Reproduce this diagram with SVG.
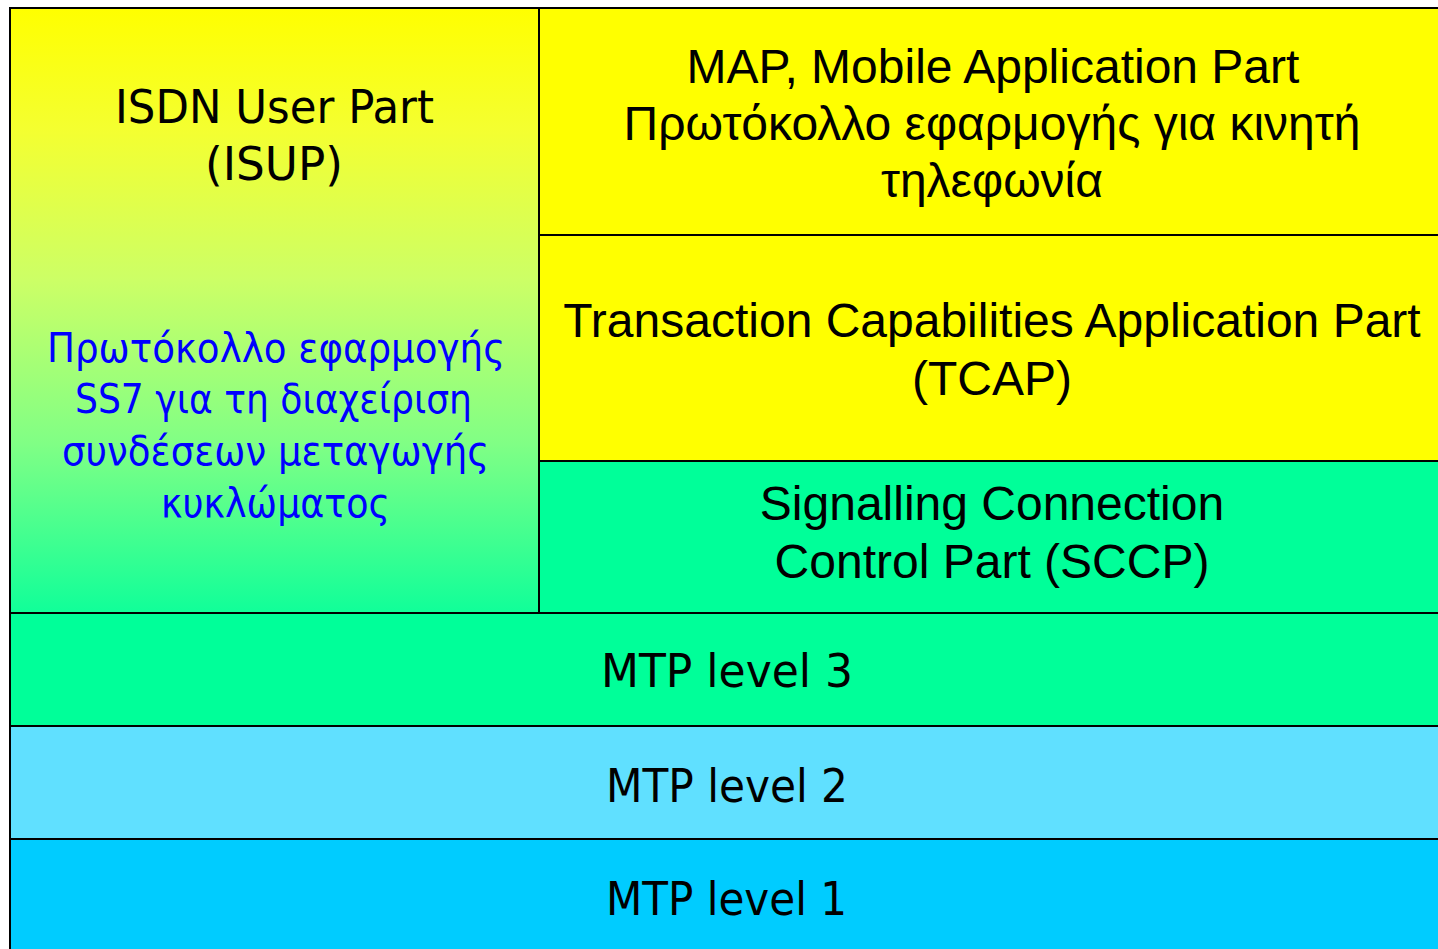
<svg xmlns="http://www.w3.org/2000/svg" width="1438" height="949" viewBox="0 0 1438 949">
  <defs>
    <linearGradient id="isupGrad" x1="0" y1="0" x2="0" y2="1">
      <stop offset="0" stop-color="#FFFF00"/>
      <stop offset="0.2" stop-color="#F4FF30"/>
      <stop offset="0.45" stop-color="#CCFF66"/>
      <stop offset="0.72" stop-color="#80FF85"/>
      <stop offset="1" stop-color="#10FF99"/>
    </linearGradient>
    <style>
      .box { stroke: #000000; stroke-width: 2; }
      .arial { font-family: "Liberation Sans", Arial, sans-serif; font-size: 48px; fill: #000000; text-anchor: middle; }
      .tah { font-family: "DejaVu Sans", Tahoma, sans-serif; font-size: 47px; fill: #000000; }
      .tahblue { font-family: "DejaVu Sans", Tahoma, sans-serif; font-size: 40px; fill: #0000FF; }
    </style>
  </defs>
  <rect x="0" y="0" width="1438" height="949" fill="#FFFFFF"/>

  <g id="isup">
    <rect class="box" x="10" y="8" width="529" height="605" fill="url(#isupGrad)"/>
    <text class="tah" x="115" y="123" textLength="319" lengthAdjust="spacingAndGlyphs">ISDN User Part</text>
    <text class="tah" x="205" y="180" textLength="138" lengthAdjust="spacingAndGlyphs">(ISUP)</text>
    <text class="tahblue" x="47" y="362" textLength="458" lengthAdjust="spacingAndGlyphs">Πρωτόκολλο εφαρμογής</text>
    <text class="tahblue" x="75" y="413" textLength="397" lengthAdjust="spacingAndGlyphs">SS7 για τη διαχείριση</text>
    <text class="tahblue" x="62" y="465" textLength="427" lengthAdjust="spacingAndGlyphs">συνδέσεων μεταγωγής</text>
    <text class="tahblue" x="161" y="517" textLength="229" lengthAdjust="spacingAndGlyphs">κυκλώματος</text>
  </g>

  <g id="map">
    <rect class="box" x="539" y="8" width="907" height="227" fill="#FFFF00"/>
    <text class="arial" x="993" y="83">MAP, Mobile Application Part</text>
    <text class="arial" x="992" y="140">Πρωτόκολλο εφαρμογής για κινητή</text>
    <text class="arial" x="992" y="197">τηλεφωνία</text>
  </g>

  <g id="tcap">
    <rect class="box" x="539" y="235" width="907" height="226" fill="#FFFF00"/>
    <text class="arial" x="992" y="337">Transaction Capabilities Application Part</text>
    <text class="arial" x="992" y="395">(TCAP)</text>
  </g>

  <g id="sccp">
    <rect class="box" x="539" y="461" width="907" height="152" fill="#00FF99"/>
    <text class="arial" x="992" y="520">Signalling Connection</text>
    <text class="arial" x="992" y="578">Control Part (SCCP)</text>
  </g>

  <g id="mtp3">
    <rect class="box" x="10" y="613" width="1436" height="113" fill="#00FF99"/>
    <text class="tah" x="601" y="687" textLength="252" lengthAdjust="spacingAndGlyphs">MTP level 3</text>
  </g>

  <g id="mtp2">
    <rect class="box" x="10" y="726" width="1436" height="113" fill="#60E0FF"/>
    <text class="tah" x="606" y="802" textLength="242" lengthAdjust="spacingAndGlyphs">MTP level 2</text>
  </g>

  <g id="mtp1">
    <rect class="box" x="10" y="839" width="1436" height="130" fill="#00CCFF"/>
    <text class="tah" x="606" y="915" textLength="241" lengthAdjust="spacingAndGlyphs">MTP level 1</text>
  </g>

  <g id="connectors"/>
</svg>
